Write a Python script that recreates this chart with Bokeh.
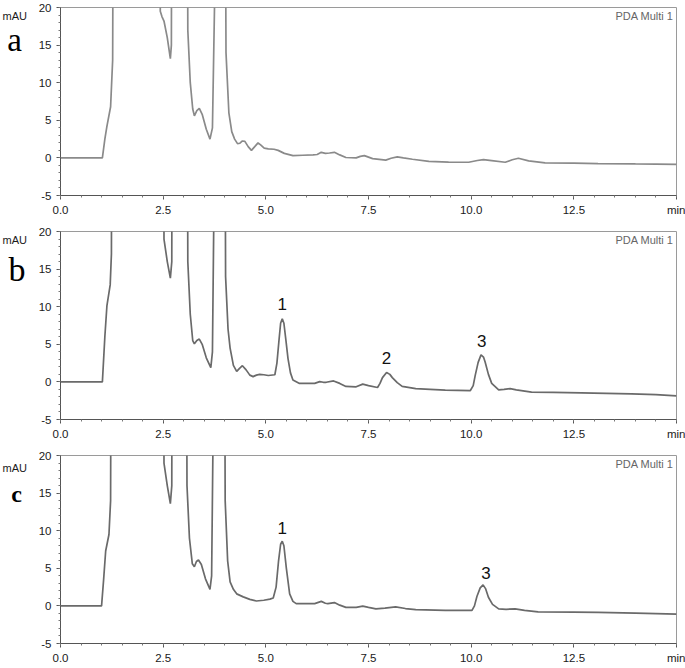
from bokeh.plotting import figure
from bokeh.models import Range1d, FixedTicker, Label, PrintfTickFormatter
from bokeh.layouts import column, row
from bokeh.embed import file_html
from bokeh.resources import INLINE

# ---------------- data (retention time in min, absorbance in mAU) ----------------
# values of 100 mark the off-scale solvent / matrix peaks
time_a = [0, 0.5, 1.02, 1.08, 1.13, 1.22, 1.27, 1.32, 2.40, 2.43, 2.47, 2.52, 2.60, 2.675, 2.70, 2.73,
          3.06, 3.10, 3.16, 3.22, 3.26, 3.32, 3.38, 3.45, 3.55, 3.64, 3.70, 3.75, 3.78,
          3.97, 4.03, 4.10, 4.17, 4.24, 4.31, 4.37, 4.43, 4.49, 4.57, 4.65, 4.73, 4.81, 4.88, 4.96,
          5.06, 5.20, 5.30, 5.45, 5.66, 5.90, 6.15, 6.25, 6.35, 6.45, 6.55, 6.67, 6.80, 6.95, 7.20,
          7.30, 7.40, 7.50, 7.60, 7.92, 8.05, 8.20, 8.35, 8.57, 8.97, 9.45, 9.94, 10.15, 10.30, 10.50,
          10.83, 11.00, 11.15, 11.40, 11.80, 12.5, 13.09, 14.0, 15.0]
signal_a = [0, 0, 0, 2.5, 4.2, 6.8, 13, 100, 100, 19.5, 18.8, 18.2, 16, 13.2, 15, 100,
            100, 17, 10, 6.5, 5.6, 6.3, 6.6, 5.8, 3.8, 2.5, 4, 20, 100,
            100, 14, 6, 3.5, 2.5, 1.9, 1.95, 2.25, 2.2, 1.5, 1.0, 1.5, 2.0, 1.7, 1.3,
            1.2, 1.15, 1.0, 0.6, 0.3, 0.35, 0.4, 0.45, 0.74, 0.6, 0.65, 0.74, 0.4, 0.05, 0.0,
            0.2, 0.3, 0.1, -0.1, -0.3, -0.05, 0.13, 0.0, -0.18, -0.45, -0.55, -0.58, -0.35, -0.22, -0.35,
            -0.58, -0.25, -0.05, -0.4, -0.66, -0.7, -0.75, -0.8, -0.85]

time_b = [0, 0.5, 1.02, 1.08, 1.13, 1.21, 1.24, 1.27, 2.49, 2.52, 2.60, 2.675, 2.71, 2.73,
          3.06, 3.10, 3.16, 3.22, 3.26, 3.32, 3.38, 3.45, 3.55, 3.66, 3.70, 3.73, 3.76,
          3.97, 4.02, 4.08, 4.13, 4.21, 4.29, 4.36, 4.43, 4.52, 4.61, 4.69, 4.77, 4.85, 4.95, 5.06,
          5.22, 5.27, 5.32, 5.36, 5.40, 5.44, 5.49, 5.54, 5.60, 5.66, 5.82, 6.00, 6.19, 6.31, 6.40,
          6.47, 6.65, 6.80, 6.95, 7.20, 7.36, 7.50, 7.72, 7.78, 7.84, 7.94, 8.02, 8.08, 8.20, 8.32,
          8.65, 9.0, 9.37, 9.98, 10.05, 10.10, 10.17, 10.24, 10.30, 10.34, 10.42, 10.50, 10.67, 10.80,
          10.95, 11.10, 11.47, 12.0, 12.68, 13.9, 14.5, 15.0]
signal_b = [0, 0, 0, 6, 10.1, 12.9, 17, 100, 100, 19, 16, 13.8, 16, 100,
            100, 16, 9, 5.5, 5.06, 5.5, 5.7, 5.0, 3.2, 1.9, 4, 20, 100,
            100, 14, 7, 4.5, 2.2, 1.4, 1.8, 2.15, 1.6, 0.9, 0.7, 0.9, 1.0, 0.95, 0.85,
            0.95, 2.5, 5.5, 7.8, 8.4, 7.8, 5.5, 3.1, 1.2, 0.25, -0.2, -0.2, -0.2, 0.04, -0.05,
            -0.05, 0.13, -0.2, -0.6, -0.65, -0.3, -0.5, -0.75, -0.2, 0.57, 1.26, 1.0, 0.57, -0.1, -0.6,
            -0.9, -1.0, -1.1, -1.15, -0.5, 0.9, 2.6, 3.6, 3.3, 2.65, 1.0, -0.2, -1.06, -1.0,
            -0.9, -1.06, -1.36, -1.4, -1.45, -1.6, -1.7, -1.85]

time_c = [0, 0.5, 1.00, 1.05, 1.10, 1.18, 1.22, 1.26, 2.49, 2.52, 2.60, 2.675, 2.71, 2.73,
          3.04, 3.08, 3.14, 3.21, 3.26, 3.31, 3.36, 3.43, 3.53, 3.64, 3.68, 3.71, 3.74,
          3.96, 4.01, 4.07, 4.13, 4.21, 4.29, 4.45, 4.61, 4.77, 4.95, 5.10, 5.18, 5.25, 5.31, 5.36,
          5.40, 5.44, 5.50, 5.58, 5.66, 5.74, 6.00, 6.19, 6.35, 6.45, 6.51, 6.67, 6.80, 6.95, 7.20,
          7.36, 7.50, 7.68, 7.90, 8.16, 8.40, 8.65, 9.37, 10.02, 10.08, 10.14, 10.22, 10.29, 10.35,
          10.42, 10.52, 10.67, 10.85, 11.07, 11.30, 11.63, 12.5, 13.09, 14.0, 15.0]
signal_c = [0, 0, 0, 3.5, 7.3, 9.5, 14, 100, 100, 19, 16, 13.6, 16, 100,
            100, 16, 9, 5.6, 5.2, 5.9, 6.1, 5.5, 3.6, 2.2, 4, 20, 100,
            100, 14, 6, 3.2, 2.2, 1.6, 1.2, 0.87, 0.65, 0.75, 0.9, 1.06, 2.5, 6.0, 8.2,
            8.6, 8.0, 5.0, 1.6, 0.6, 0.3, 0.3, 0.3, 0.6, 0.35, 0.3, 0.44, 0.1, -0.2, -0.2,
            -0.04, -0.2, -0.4, -0.3, -0.13, -0.35, -0.5, -0.6, -0.6, 0.0, 1.25, 2.4, 2.8, 2.3,
            1.15, 0.2, -0.4, -0.45, -0.4, -0.6, -0.8, -0.82, -0.85, -0.95, -1.1]

x_major_ticks = [0, 2.5, 5, 7.5, 10, 12.5, 15]
x_tick_overrides = {15: "min"}
x_minor_ticks = [i * 0.5 for i in range(31)]
y_major_ticks = [-5, 0, 5, 10, 15, 20]
y_minor_ticks = list(range(-5, 21))

peaks_b = [("1", 5.40, 10.3), ("2", 7.94, 3.2), ("3", 10.26, 5.4)]
peaks_c = [("1", 5.40, 10.4), ("3", 10.36, 4.4)]

FRAME_W, FRAME_H = 616, 188
STRIP_W = 35
SANS = "Liberation Sans"
SERIF = "Liberation Serif"


def make_panel(t, s, color, peaks, top, bottom):
    p = figure(frame_width=FRAME_W, frame_height=FRAME_H,
               min_border_left=24, min_border_right=9, min_border_top=top, min_border_bottom=bottom,
               x_range=Range1d(0, 15), y_range=Range1d(-5, 20),
               output_backend="svg", toolbar_location=None)
    p.grid.visible = False
    p.outline_line_color = "#9a9a9a"
    p.outline_line_width = 1
    p.background_fill_color = "white"
    p.border_fill_color = "white"

    p.line(t, s, line_color=color, line_width=1.7)

    for ax in (p.xaxis[0], p.yaxis[0]):
        ax.axis_line_color = "#555555"
        ax.major_tick_line_color = "#555555"
        ax.minor_tick_line_color = "#777777"
        ax.major_tick_in = 0
        ax.major_tick_out = 4
        ax.minor_tick_in = 0
        ax.minor_tick_out = 2
        ax.major_label_text_font = SANS
        ax.major_label_text_font_size = "11.5px"
        ax.major_label_text_color = "#1a1a1a"
    p.xaxis.ticker = FixedTicker(ticks=x_major_ticks, minor_ticks=x_minor_ticks)
    p.xaxis.formatter = PrintfTickFormatter(format="%.1f")
    p.xaxis.major_label_overrides = x_tick_overrides
    p.xaxis.major_label_standoff = 4
    p.yaxis.ticker = FixedTicker(ticks=y_major_ticks, minor_ticks=y_minor_ticks)
    p.yaxis.formatter = PrintfTickFormatter(format="%d")
    p.yaxis.major_label_standoff = 5

    p.add_layout(Label(x=FRAME_W - 3, y=FRAME_H - 2, x_units="screen", y_units="screen",
                       text="PDA Multi 1", text_font=SANS, text_font_size="11px",
                       text_color="#666666", text_align="right", text_baseline="top"))
    for txt, px, py in peaks:
        p.add_layout(Label(x=px, y=py, text=txt, text_font=SANS, text_font_size="17px",
                           text_color="#111111", text_align="center", text_baseline="middle"))
    return p


def make_strip(height, letter, letter_size, letter_style, letter_pos, unit_base):
    # narrow side strip carrying the unit label and the panel letter (pixel coordinates, top-down)
    s = figure(width=STRIP_W, height=height, x_range=Range1d(0, STRIP_W), y_range=Range1d(height, 0),
               min_border=0, x_axis_type=None, y_axis_type=None,
               output_backend="svg", toolbar_location=None)
    s.outline_line_color = None
    s.background_fill_color = "white"
    s.border_fill_color = "white"
    s.add_layout(Label(x=2, y=unit_base, text="mAU", text_font=SANS, text_font_size="11px",
                       text_color="#1a1a1a", text_align="left", text_baseline="alphabetic"))
    s.add_layout(Label(x=letter_pos[0], y=letter_pos[1], text=letter, text_font=SERIF,
                       text_font_size=letter_size, text_font_style=letter_style,
                       text_color="black", text_align="center", text_baseline="alphabetic"))
    return s


H1, H2, H3 = 7 + FRAME_H + 25, 11 + FRAME_H + 25, 11 + FRAME_H + 22

pa = make_panel(time_a, signal_a, "#8a8a8a", [], 7, 25)
pb = make_panel(time_b, signal_b, "#6a6a6a", peaks_b, 11, 25)
pc = make_panel(time_c, signal_c, "#6a6a6a", peaks_c, 11, 22)

sa = make_strip(H1, "a", "33px", "normal", (14, 38), 9.5)
sb = make_strip(H2, "b", "34px", "normal", (16.5, 45), 10)
sc = make_strip(H3, "c", "24px", "bold", (16, 45), 15)

layout = column(row(sa, pa), row(sb, pb), row(sc, pc))
open("out.html", "w").write(file_html(layout, INLINE))
